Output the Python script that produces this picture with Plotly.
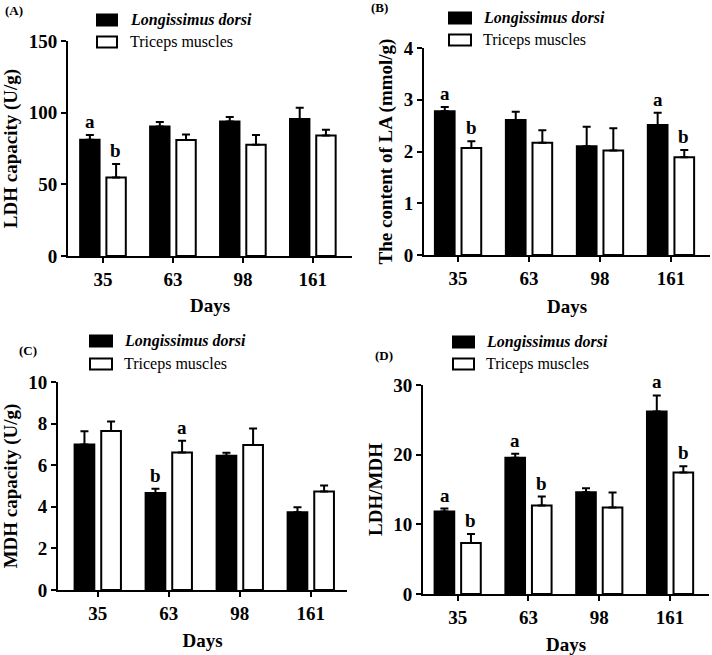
import plotly.graph_objects as go

days = ["35", "63", "98", "161"]
series_names = ["Longissimus dorsi", "Triceps muscles"]

# Panel A: LDH capacity (U/g)
a_ld = [81.1, 90.4, 93.9, 95.6]
a_ld_err = [3.3, 3.1, 3.1, 7.9]
a_tm = [54.8, 80.9, 77.6, 84.1]
a_tm_err = [9.3, 3.9, 6.8, 4.0]
a_ld_sig = ["a", "", "", ""]
a_tm_sig = ["b", "", "", ""]

# Panel B: content of LA (mmol/g)
b_ld = [2.78, 2.61, 2.10, 2.51]
b_ld_err = [0.08, 0.16, 0.38, 0.24]
b_tm = [2.07, 2.17, 2.02, 1.89]
b_tm_err = [0.13, 0.24, 0.43, 0.14]
b_ld_sig = ["a", "", "", "a"]
b_tm_sig = ["b", "", "", "b"]

# Panel C: MDH capacity (U/g)
c_ld = [7.00, 4.66, 6.45, 3.74]
c_ld_err = [0.63, 0.21, 0.15, 0.24]
c_tm = [7.65, 6.61, 6.97, 4.74]
c_tm_err = [0.45, 0.57, 0.80, 0.29]
c_ld_sig = ["", "b", "", ""]
c_tm_sig = ["", "a", "", ""]

# Panel D: LDH/MDH
d_ld = [11.83, 19.57, 14.62, 26.2]
d_ld_err = [0.43, 0.57, 0.57, 2.3]
d_tm = [7.31, 12.69, 12.40, 17.45]
d_tm_err = [1.29, 1.30, 2.17, 0.87]
d_ld_sig = ["a", "a", "", "a"]
d_tm_sig = ["b", "b", "", "b"]

panel_labels = ["(A)", "(B)", "(C)", "(D)"]
y_titles = ["LDH capacity (U/g)", "The content of LA (mmol/g)", "MDH capacity (U/g)", "LDH/MDH"]
y_ranges = [[0, 150], [0, 4], [0, 10], [0, 30]]
y_dticks = [50, 1, 2, 10]

W, H = 712, 655
FONT = "Liberation Serif, Times New Roman, serif"

# layout geometry (pixels)
panels = [
    dict(x0=68, x1=352, ytop=41, ybot=256, xr=[-0.5, 3.56], xstand=10,
         leg=(97, 117, 128, 20, 42), lab=(3, 10)),
    dict(x0=424, x1=710, ytop=48, ybot=255, xr=[-0.48, 3.55], xstand=12,
         leg=(449, 471, 481, 18, 40), lab=(369, 8)),
    dict(x0=58, x1=347, ytop=382, ybot=590, xr=[-0.56, 3.51], xstand=11,
         leg=(90, 112, 122, 341, 364), lab=(17, 350)),
    dict(x0=423, x1=709, ytop=385, ybot=594, xr=[-0.49, 3.55], xstand=11,
         leg=(453, 474, 484, 342, 364), lab=(373, 355)),
]

data = [
    (a_ld, a_ld_err, a_tm, a_tm_err, a_ld_sig, a_tm_sig),
    (b_ld, b_ld_err, b_tm, b_tm_err, b_ld_sig, b_tm_sig),
    (c_ld, c_ld_err, c_tm, c_tm_err, c_ld_sig, c_tm_sig),
    (d_ld, d_ld_err, d_tm, d_tm_err, d_ld_sig, d_tm_sig),
]

fig = go.Figure()
annotations = []
shapes = []

def px(x):
    return x / W

def py(y):
    return 1 - y / H

for i, (p, (ld, lde, tm, tme, lds, tms)) in enumerate(zip(panels, data)):
    n = "" if i == 0 else str(i + 1)
    xa, ya = "x" + n, "y" + n
    fig.add_trace(go.Bar(
        x=days, y=ld, name=series_names[0], xaxis=xa, yaxis=ya,
        marker=dict(color="black", line=dict(color="black", width=2)),
        error_y=dict(type="data", array=lde, arrayminus=[0] * 4, symmetric=False,
                     color="black", thickness=2, width=4),
        showlegend=False, offsetgroup="ld",
    ))
    fig.add_trace(go.Bar(
        x=days, y=tm, name=series_names[1], xaxis=xa, yaxis=ya,
        marker=dict(color="white", line=dict(color="black", width=2)),
        error_y=dict(type="data", array=tme, arrayminus=[0] * 4, symmetric=False,
                     color="black", thickness=2, width=4),
        showlegend=False, offsetgroup="tm",
    ))
    axis_common = dict(
        showline=True, linecolor="black", linewidth=2, ticks="outside",
        ticklen=5, tickwidth=2, tickcolor="black", showgrid=False, zeroline=False,
        automargin=False,
        tickfont=dict(family=FONT, size=19, color="black", weight="bold"),
    )
    fig.layout["xaxis" + n] = dict(
        axis_common, domain=[px(p["x0"]), px(p["x1"])], anchor=ya,
        type="category", range=p["xr"],
        title=dict(text="Days", font=dict(family=FONT, size=19, color="black", weight="bold"),
                   standoff=p["xstand"]),
    )
    fig.layout["yaxis" + n] = dict(
        axis_common, domain=[py(p["ybot"]), py(p["ytop"])], anchor=xa,
        range=y_ranges[i], dtick=y_dticks[i],
        title=dict(text=y_titles[i], font=dict(family=FONT, size=19, color="black", weight="bold"),
                   standoff=6),
    )
    # significance letters (x given as category index)
    for j in range(len(days)):
        for sig, val, err, sh in ((lds, ld, lde, -13), (tms, tm, tme, 13)):
            if sig[j]:
                annotations.append(dict(
                    x=j, y=val[j] + err[j], xref=xa, yref=ya, text=sig[j],
                    showarrow=False, xshift=sh, yshift=1, yanchor="bottom",
                    font=dict(family=FONT, size=19, color="black", weight="bold"),
                ))
    # legend
    mx0, mx1, tx, r1, r2 = p["leg"]
    for ry, fill, name, style in ((r1, "black", series_names[0], "italic"),
                                  (r2, "white", series_names[1], "normal")):
        shapes.append(dict(type="rect", xref="paper", yref="paper",
                           x0=px(mx0), x1=px(mx1), y0=py(ry + 5.5), y1=py(ry - 5.5),
                           fillcolor=fill, line=dict(color="black", width=2)))
        annotations.append(dict(
            x=px(tx), y=py(ry), xref="paper", yref="paper", text=name,
            showarrow=False, xanchor="left", yanchor="middle",
            font=dict(family=FONT, size=16, color="black",
                      weight="bold" if style == "italic" else "normal", style=style),
        ))
    lx, ly = p["lab"]
    annotations.append(dict(
        x=px(lx), y=py(ly), xref="paper", yref="paper", text=panel_labels[i],
        showarrow=False, xanchor="left", yanchor="middle",
        font=dict(family=FONT, size=13, color="black", weight="bold"),
    ))

fig.update_layout(
    width=W, height=H, margin=dict(l=0, r=0, t=0, b=0, autoexpand=False),
    paper_bgcolor="white", plot_bgcolor="white",
    barmode="group", bargap=0.25, bargroupgap=0.26,
    annotations=annotations, shapes=shapes, showlegend=False,
)

fig.write_html(
    "out.html",
    config={"displayModeBar": False},
    post_script="document.body.style.margin='0';document.body.style.overflow='hidden';",
)
